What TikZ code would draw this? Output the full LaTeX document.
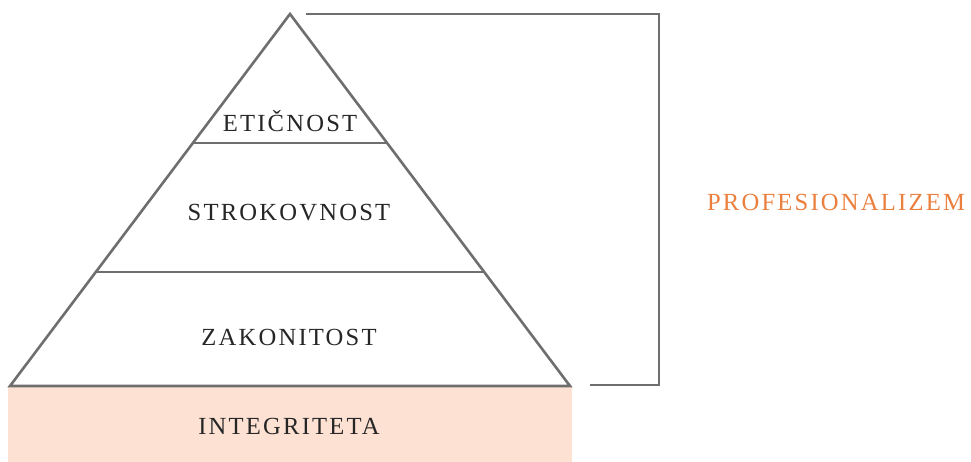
\documentclass[tikz,border=0pt]{standalone}
\usepackage{fontspec}
\setmainfont{Liberation Serif}[LetterSpace=9]
\usepackage{tikz}

\definecolor{linegray}{HTML}{6E6E6E}
\definecolor{basepink}{HTML}{FDE1D3}
\definecolor{proforange}{HTML}{EA7F3E}

\begin{document}
\begin{tikzpicture}[x=1pt,y=-1pt,
	level/.style={font=\fontsize{24.6}{28}\selectfont, text=black!85},
	edge/.style={draw=linegray, line width=2.6pt, line join=miter}]
	\useasboundingbox (0,0) rectangle (971,462);
	%\draw[help lines] (0,0) grid[step=50] (971,462);
	\fill[basepink] (8,386) rectangle (572,462);
	\draw[edge] (10,386) -- (290,14) -- (570,386) -- cycle;
	\draw[edge] (193,143) -- (387,143);
	\draw[edge] (96,272) -- (484,272);
	\coordinate (top) at (306,14);
	\coordinate (bot) at (590,385);
	\draw[linegray, line width=1.5pt] (top) -| (659,385) -- (bot);
	\node[level] (etic) at (290,121) {ETIČNOST};
	\node[level] (strok) at (289,213) {STROKOVNOST};
	\node[level] (zakon) at (289,337) {ZAKONITOST};
	\node[level] (integ) at (289,426) {INTEGRITETA};
	\node[level, text=proforange] (prof) at (836,202) {PROFESIONALIZEM};
\end{tikzpicture}
\end{document}
